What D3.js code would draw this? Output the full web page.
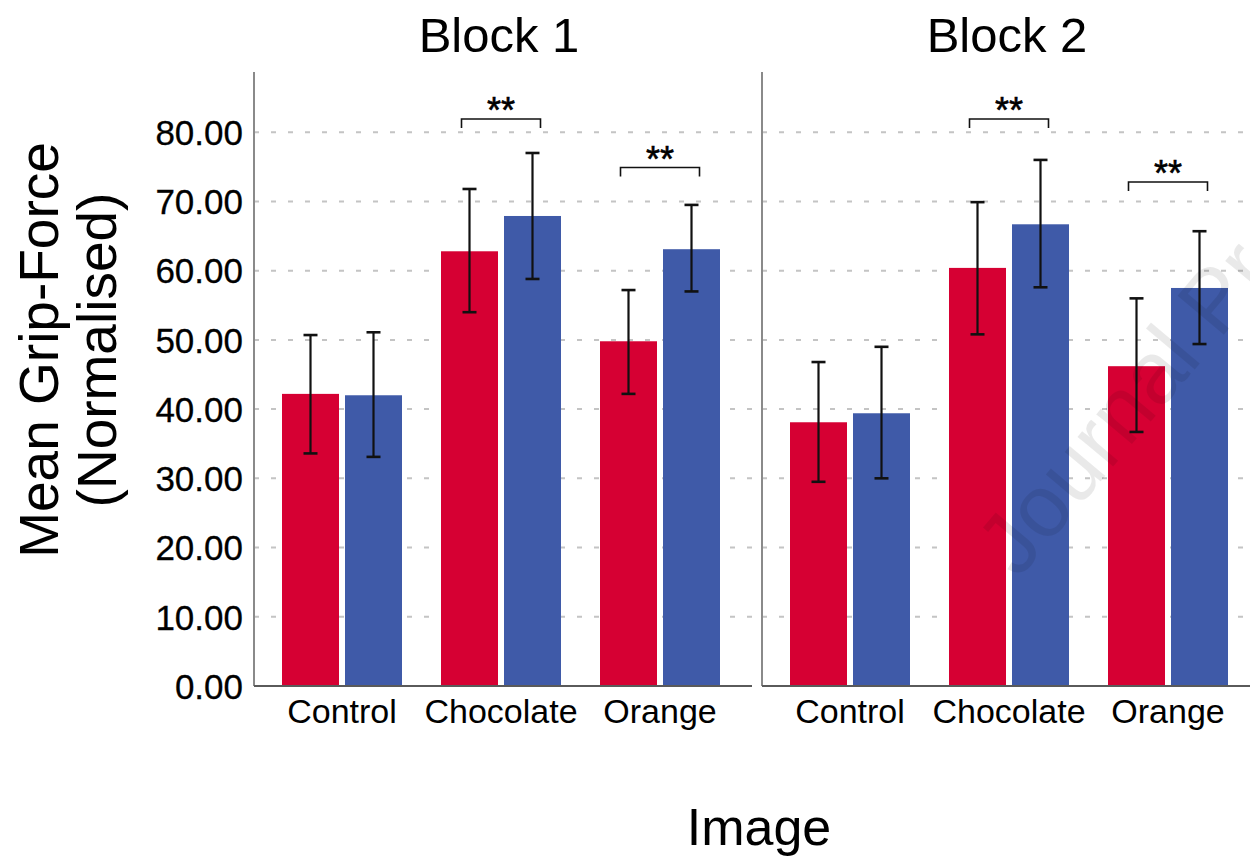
<!DOCTYPE html>
<html>
<head>
<meta charset="utf-8">
<script src="https://cdn.jsdelivr.net/npm/d3@7"></script>
<style>
  html, body { margin: 0; padding: 0; background: #fff; }
  svg { display: block; font-family: "Liberation Sans", Arial, sans-serif; }
</style>
</head>
<body>
<svg id="chart" width="1250" height="858"></svg>
<script>
// ---------------- data ----------------
const blocks = ["Block 1", "Block 2"];
const categories = ["Control", "Chocolate", "Orange"];
const seriesNames = ["Group A", "Group B"];
const seriesColors = ["#d60033", "#3f5aa8"];

const b1RedMean  = [42.2, 62.8, 49.8];
const b1RedLow   = [33.6, 54.0, 42.2];
const b1RedHigh  = [50.7, 71.8, 57.2];
const b1BlueMean = [42.0, 67.9, 63.1];
const b1BlueLow  = [33.1, 58.8, 57.0];
const b1BlueHigh = [51.1, 77.0, 69.5];

const b2RedMean  = [38.1, 60.4, 46.2];
const b2RedLow   = [29.5, 50.8, 36.7];
const b2RedHigh  = [46.8, 69.9, 56.0];
const b2BlueMean = [39.4, 66.7, 57.5];
const b2BlueLow  = [30.0, 57.6, 49.4];
const b2BlueHigh = [49.0, 76.0, 65.7];

const yTicks = [0, 10, 20, 30, 40, 50, 60, 70, 80];
const yMax = 88.7;

const sigCategories = ["Chocolate", "Orange"];
const b1SigLevel = [81.9, 74.9];
const b2SigLevel = [81.9, 72.8];
const sigLabel = "**";

const yTitleLines = ["Mean Grip-Force", "(Normalised)"];
const xTitle = "Image";
const watermark = "Journal Pre-proof";

// ---------------- build ----------------
const blockData = [
  { means: [b1RedMean, b1BlueMean], lows: [b1RedLow, b1BlueLow], highs: [b1RedHigh, b1BlueHigh], sig: b1SigLevel },
  { means: [b2RedMean, b2BlueMean], lows: [b2RedLow, b2BlueLow], highs: [b2RedHigh, b2BlueHigh], sig: b2SigLevel }
];

const svg = d3.select("#chart");
const panelWidth = 498;
const xPanel = d3.scaleOrdinal().domain(blocks).range([254, 762]);
const y = d3.scaleLinear().domain([0, yMax]).range([686, 72]);
const x0 = d3.scaleBand().domain(categories).range([8.5, 485.5]).padding(0);
const x1 = d3.scaleBand().domain(seriesNames).range([19.5, 139.5]).paddingInner(6 / 63).paddingOuter(0);

blocks.forEach((b, bi) => {
  const g = svg.append("g").attr("transform", `translate(${xPanel(b)},0)`);
  const data = blockData[bi];

  // gridlines
  g.selectAll("line.grid").data(yTicks.filter(t => t > 0)).join("line")
    .attr("class", "grid")
    .attr("x1", 0).attr("x2", panelWidth)
    .attr("y1", d => y(d)).attr("y2", d => y(d))
    .attr("stroke", "#c4c4c4").attr("stroke-width", 2)
    .attr("stroke-dasharray", "5,12");

  // bars
  seriesNames.forEach((s, si) => {
    const rows = categories.map((c, ci) => ({
      c, v: data.means[si][ci], lo: data.lows[si][ci], hi: data.highs[si][ci]
    }));
    const sg = g.append("g");
    sg.selectAll("rect").data(rows).join("rect")
      .attr("x", d => x0(d.c) + x1(s))
      .attr("width", x1.bandwidth())
      .attr("y", d => y(d.v))
      .attr("height", d => y(0) - y(d.v))
      .attr("fill", seriesColors[si]);
  });

  // error bars
  seriesNames.forEach((s, si) => {
    const rows = categories.map((c, ci) => ({
      c, lo: data.lows[si][ci], hi: data.highs[si][ci]
    }));
    const eg = g.append("g").attr("stroke", "#111").attr("stroke-width", 2.2);
    const cx = d => x0(d.c) + x1(s) + x1.bandwidth() / 2;
    eg.selectAll("line.v").data(rows).join("line").attr("class", "v")
      .attr("x1", cx).attr("x2", cx)
      .attr("y1", d => y(d.lo)).attr("y2", d => y(d.hi));
    eg.selectAll("line.t").data(rows).join("line").attr("class", "t")
      .attr("x1", d => cx(d) - 7).attr("x2", d => cx(d) + 7)
      .attr("y1", d => y(d.hi)).attr("y2", d => y(d.hi)).attr("stroke-width", 2.6);
    eg.selectAll("line.b").data(rows).join("line").attr("class", "b")
      .attr("x1", d => cx(d) - 7).attr("x2", d => cx(d) + 7)
      .attr("y1", d => y(d.lo)).attr("y2", d => y(d.lo)).attr("stroke-width", 2.6);
  });

  // significance brackets
  sigCategories.forEach((c, k) => {
    const cx = x0(c) + x0.bandwidth() / 2;
    const yy = y(data.sig[k]);
    g.append("path")
      .attr("d", `M${cx - 39.5},${yy + 9}V${yy}H${cx + 39.5}V${yy + 9}`)
      .attr("fill", "none").attr("stroke", "#111").attr("stroke-width", 1.6);
    g.append("text")
      .attr("x", cx).attr("y", yy + 4)
      .attr("text-anchor", "middle")
      .attr("font-size", 36)
      .attr("fill", "#000")
      .attr("stroke", "#000").attr("stroke-width", 0.6)
      .text(sigLabel);
  });

  // axes lines
  g.append("line").attr("x1", 0).attr("x2", 0).attr("y1", 72).attr("y2", y(0))
    .attr("stroke", "#8a8a8a").attr("stroke-width", 2);
  g.append("line").attr("x1", 0).attr("x2", panelWidth).attr("y1", y(0)).attr("y2", y(0))
    .attr("stroke", "#5a5a5a").attr("stroke-width", 2);

  // category labels
  g.selectAll("text.cat").data(categories).join("text")
    .attr("class", "cat")
    .attr("x", d => x0(d) + x0.bandwidth() / 2)
    .attr("y", 723)
    .attr("text-anchor", "middle")
    .attr("font-size", 34)
    .attr("fill", "#000")
    .text(d => d);

  // block title
  g.append("text")
    .attr("x", panelWidth / 2 - 4)
    .attr("y", 52)
    .attr("text-anchor", "middle")
    .attr("font-size", 49)
    .attr("fill", "#000")
    .text(b);
});

// y tick labels (left panel only)
const yAxis = d3.axisLeft(y).tickValues(yTicks).tickSize(0).tickPadding(11)
  .tickFormat(d3.format(".2f"));
const ya = svg.append("g").attr("transform", "translate(254,0)").call(yAxis);
ya.select(".domain").remove();
ya.selectAll("text")
  .attr("font-size", 35)
  .attr("font-family", "\"Liberation Sans\", Arial, sans-serif")
  .attr("fill", "#000")
  .attr("stroke", "#000").attr("stroke-width", 0.3)
  .attr("dy", "0.35em");

// y title
const yt = svg.append("text")
  .attr("transform", "translate(0,350) rotate(-90)")
  .attr("text-anchor", "middle")
  .attr("font-size", 55)
  .attr("fill", "#000");
yt.selectAll("tspan").data(yTitleLines).join("tspan")
  .attr("x", 0)
  .attr("y", (d, i) => 58 + i * 58)
  .text(d => d);

// x title
svg.append("text")
  .attr("x", 759).attr("y", 845)
  .attr("text-anchor", "middle")
  .attr("font-size", 52)
  .attr("fill", "#000")
  .text(xTitle);

// watermark (overlay, faint)
svg.append("text")
  .attr("transform", "translate(1018,580) rotate(-50)")
  .attr("font-size", 88)
  .attr("fill", "rgba(0,0,0,0.085)")
  .text(watermark);
</script>
</body>
</html>
